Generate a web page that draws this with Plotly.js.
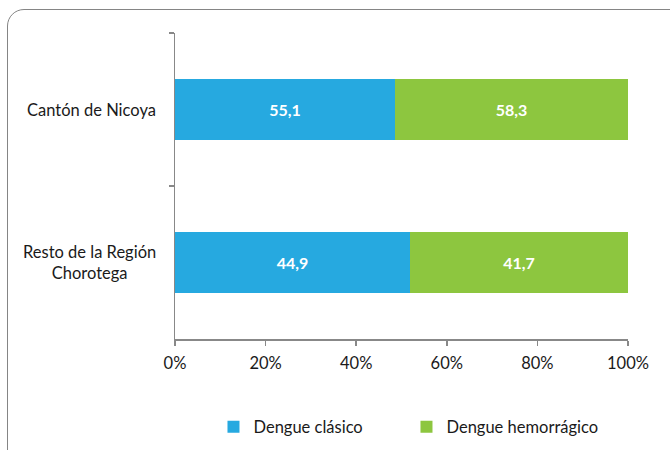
<!DOCTYPE html>
<html>
<head>
<meta charset="utf-8">
<script src="https://cdn.plot.ly/plotly-3.0.1.min.js"></script>
<style>
html,body{margin:0;padding:0;background:#fff;overflow:hidden;}
#frame{position:absolute;left:7px;top:9px;width:680px;height:470px;border:1.5px solid #858585;border-radius:17px;box-sizing:border-box;}
#chart{position:absolute;left:0;top:0;width:670px;height:450px;}
</style>
</head>
<body>
<div id="frame"></div>
<div id="chart"></div>
<script>
const categories = ["Cantón de Nicoya", "Resto de la Región<br>Chorotega"];
const seriesNames = ["Dengue clásico", "Dengue hemorrágico"];
const clasico = [55.1, 44.9];
const hemorragico = [58.3, 41.7];
const xTickVals = [0, 20, 40, 60, 80, 100];
const xTickText = ["0%", "20%", "40%", "60%", "80%", "100%"];
const colors = ["#26A9E0", "#8DC63F"];

const FONT = "Lato, 'Open Sans', sans-serif";
const FS = 16.5;
const fmt = v => v.toFixed(1).replace('.', ',');

const mk = (vals, name, color) => ({
  type: 'bar', orientation: 'h',
  y: categories, x: vals, name: name,
  marker: {color: color, line: {width: 0}},
  text: vals.map(fmt), textposition: 'inside', insidetextanchor: 'middle',
  textfont: {family: FONT, size: 16, color: '#ffffff', weight: 'bold'},
  hoverinfo: 'none'
});

const data = [mk(clasico, seriesNames[0], colors[0]), mk(hemorragico, seriesNames[1], colors[1])];

const annotations = categories.map(c => ({
  xref: 'paper', yref: 'y', x: 0, y: c, xanchor: 'right', yanchor: 'middle',
  xshift: -17, text: c, showarrow: false, align: 'center',
  font: {family: FONT, size: FS, color: '#1a1a1a'}
}));

const layout = {
  width: 670, height: 450,
  margin: {l: 175, r: 42, t: 33, b: 111, autoexpand: false},
  paper_bgcolor: 'rgba(0,0,0,0)', plot_bgcolor: 'rgba(0,0,0,0)',
  barmode: 'stack', barnorm: 'percent', bargap: 0.6,
  font: {family: FONT, size: FS, color: '#1a1a1a'},
  showlegend: true,
  xaxis: {
    range: [0, 100], tickvals: xTickVals, ticktext: xTickText,
    showgrid: false, zeroline: false, showline: true, linecolor: '#888888', linewidth: 1.5,
    ticks: 'outside', ticklen: 5, tickcolor: '#888888', tickwidth: 1.5, ticklabelstandoff: 4,
    tickfont: {family: FONT, size: FS, color: '#1a1a1a'}, fixedrange: true
  },
  yaxis: {
    type: 'category', autorange: false, range: [1.5, -0.5],
    showgrid: false, zeroline: false, showline: true, linecolor: '#888888', linewidth: 1.5,
    ticks: 'outside', tickson: 'boundaries', ticklen: 5, tickcolor: '#888888', tickwidth: 1.5,
    showticklabels: false, fixedrange: true
  },
  annotations: annotations,
  legend: {
    orientation: 'h', x: 0.511, xanchor: 'center', y: -0.288, yanchor: 'middle',
    font: {family: FONT, size: FS, color: '#1a1a1a'},
    itemwidth: 30, entrywidth: 148, traceorder: 'normal', bgcolor: 'rgba(0,0,0,0)'
  }
};

Plotly.newPlot('chart', data, layout, {displayModeBar: false, staticPlot: true});
</script>
</body>
</html>
